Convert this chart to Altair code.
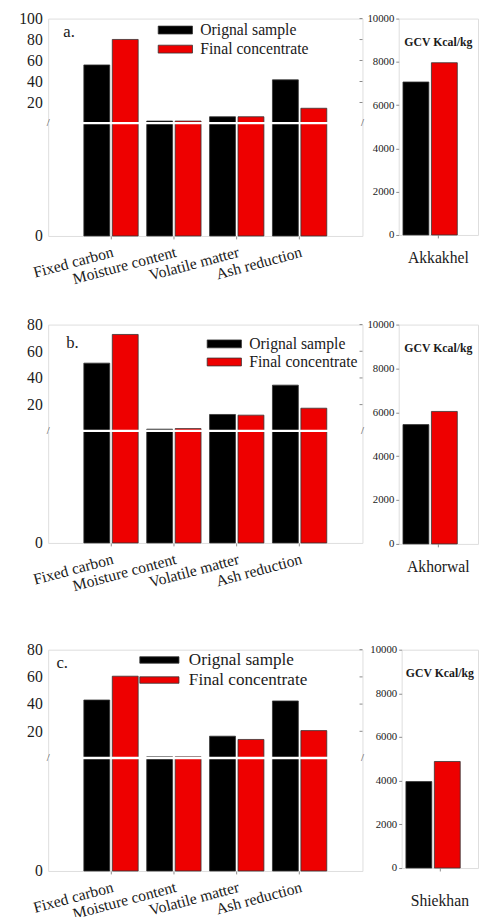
import altair as alt
import pandas as pd

PARAMS = ["Fixed carbon", "Moisture content", "Volatile matter", "Ash reduction"]
SERIES = ["Orignal sample", "Final concentrate"]
COLORS = ["#000000", "#ee0000"]

A_ORIG = [55.8, 2.3, 6.4, 41.6]
A_FINAL = [80.1, 2.3, 6.4, 14.5]
B_ORIG = [51.1, 1.6, 12.6, 34.6]
B_FINAL = [72.6, 2.0, 12.1, 17.3]
C_ORIG = [43.0, 1.3, 16.4, 42.3]
C_FINAL = [60.5, 1.3, 14.0, 20.5]

SITES = ["Akkakhel", "Akhorwal", "Shiekhan"]
GCV_ORIG = [7070, 5440, 3960]
GCV_FINAL = [7960, 6040, 4880]

TICKS_A = [0, 20, 40, 60, 80, 100]
TICKS_BC = [0, 20, 40, 60, 80]
GCV_TICKS = [0, 2000, 4000, 6000, 8000, 10000]
PANEL_TAGS = ["a.", "b.", "c."]
GCV_TITLE = "GCV Kcal/kg"
BREAK = 0.3

FONT = "Liberation Serif"
FRAME = "#8a8a8a"
TEXT = "#1a1a1a"
PATH_AB = "M-2,-0.46H2V0.46H-2Z"
PATH_C = "M-2,-0.33H2V0.33H-2Z"


def left_panel(tag, orig, final, ymax, ticks, w, h, slope, leg, tag_x, tag_y):
    df = pd.DataFrame({
        "param": PARAMS * 2,
        "series": [SERIES[0]] * 4 + [SERIES[1]] * 4,
        "value": orig + final,
    })
    yb = (ymax - BREAK) * slope
    yscale = alt.Scale(domain=[0, BREAK, ymax], range=[h, yb, 0], nice=False, zero=False)
    bars = alt.Chart(df).mark_bar(stroke="#333333", strokeWidth=0.8).encode(
        x=alt.X("param:N", sort=PARAMS,
                scale=alt.Scale(paddingInner=0, paddingOuter=0.5),
                axis=alt.Axis(title=None, labelAngle=345, labelAlign="right", labelBaseline="top",
                              labelFont=FONT, labelFontSize=16, labelColor=TEXT, tickSize=3,
                              tickColor=FRAME, domain=False, labelPadding=5, labelLimit=300)),
        xOffset=alt.XOffset("series:N", sort=SERIES,
                            scale=alt.Scale(paddingInner=0.09, paddingOuter=0.15)),
        y=alt.Y("value:Q", scale=yscale,
                axis=alt.Axis(values=ticks, title=None, tickSize=0, labelPadding=6,
                              labelFont=FONT, labelFontSize=16, labelColor=TEXT,
                              grid=False, domain=False)),
        color=alt.Color("series:N", sort=SERIES,
                        scale=alt.Scale(domain=SERIES, range=COLORS),
                        legend=alt.Legend(orient="none", legendX=leg["x"], legendY=leg["y"],
                                          title=None, symbolType=leg["path"],
                                          symbolSize=leg["size"],
                                          symbolStrokeColor="#333333", symbolStrokeWidth=0.8,
                                          symbolOpacity=1, labelFont=FONT,
                                          labelFontSize=leg["fs"], labelColor=TEXT,
                                          labelOffset=leg["off"], rowPadding=leg["pad"],
                                          padding=0)),
    )
    bdf = pd.DataFrame({"b": [BREAK]})
    gap = alt.Chart(bdf).mark_rule(color="white", strokeWidth=2.5).encode(
        y=alt.Y("b:Q", scale=yscale), x=alt.value(0), x2=alt.value(w))
    brk_l = alt.Chart(bdf).mark_text(text="/", font=FONT, fontSize=11, color="#444444").encode(
        y=alt.Y("b:Q", scale=yscale), x=alt.value(0))
    brk_r = alt.Chart(bdf).mark_text(text="/", font=FONT, fontSize=11, color="#444444").encode(
        y=alt.Y("b:Q", scale=yscale), x=alt.value(w))
    mdf = pd.DataFrame({"v": ticks[1:]})
    mirror = alt.Chart(mdf).mark_tick(orient="horizontal", size=3, thickness=1,
                                      color="#555555").encode(
        y=alt.Y("v:Q", scale=yscale), x=alt.value(w - 1.5))
    tagc = alt.Chart(pd.DataFrame({"t": [tag]})).mark_text(
        font=FONT, fontSize=17, color=TEXT, align="left", baseline="middle").encode(
        x=alt.value(tag_x), y=alt.value(tag_y), text="t:N")
    return alt.layer(bars, gap, brk_l, brk_r, mirror, tagc).properties(width=w, height=h)


def gcv_panel(site, orig, final, w, h, label_pad):
    df = pd.DataFrame({"site": [site] * 2, "series": SERIES, "value": [orig, final]})
    bars = alt.Chart(df).mark_bar(stroke="#333333", strokeWidth=0.8).encode(
        x=alt.X("site:N", scale=alt.Scale(paddingInner=0, paddingOuter=0),
                axis=alt.Axis(title=None, labelAngle=0, labelFont=FONT, labelFontSize=16,
                              labelColor=TEXT, tickSize=3, tickColor=FRAME, domain=False,
                              labelPadding=label_pad)),
        xOffset=alt.XOffset("series:N", sort=SERIES,
                            scale=alt.Scale(paddingInner=0.13, paddingOuter=0.55)),
        y=alt.Y("value:Q", scale=alt.Scale(domain=[0, 10000], nice=False),
                axis=alt.Axis(values=GCV_TICKS, format="d", title=None, tickSize=3,
                              tickColor=FRAME, labelFont=FONT, labelFontSize=11,
                              labelColor=TEXT, labelPadding=2, grid=False, domain=False)),
        color=alt.Color("series:N", scale=alt.Scale(domain=SERIES, range=COLORS), legend=None),
    )
    title = alt.Chart(pd.DataFrame({"t": [GCV_TITLE]})).mark_text(
        font=FONT, fontSize=12, fontWeight="bold", color=TEXT).encode(
        x=alt.value(w / 2), y=alt.value(24), text="t:N")
    return alt.layer(bars, title).properties(width=w, height=h)


def row(left, right, spacing):
    return alt.hconcat(left, right, spacing=spacing, bounds="flush").resolve_scale(
        color="independent", y="independent", x="independent").resolve_legend(color="independent")


LEG_A = {"x": 120.4, "y": 2.2, "fs": 16, "pad": 1.5, "off": 16, "path": PATH_AB, "size": 306}
LEG_B = {"x": 170.4, "y": 10.2, "fs": 16, "pad": 0.5, "off": 16, "path": PATH_AB, "size": 306}
LEG_C = {"x": 103.1, "y": 0, "fs": 17.5, "pad": 1.5, "off": 19.6, "path": PATH_C, "size": 400}

row_a = row(
    left_panel(PANEL_TAGS[0], A_ORIG, A_FINAL, 100, TICKS_A, 321, 222, 1.071, LEG_A, 15.5, 14),
    gcv_panel(SITES[0], GCV_ORIG[0], GCV_FINAL[0], 81, 221, 12), 37)
row_b = row(
    left_panel(PANEL_TAGS[1], B_ORIG, B_FINAL, 80, TICKS_BC, 321, 223, 1.362, LEG_B, 18.5, 18.5),
    gcv_panel(SITES[1], GCV_ORIG[1], GCV_FINAL[1], 81, 224, 12), 37)
row_c = row(
    left_panel(PANEL_TAGS[2], C_ORIG, C_FINAL, 80, TICKS_BC, 321, 226, 1.389, LEG_C, 8.5, 14),
    gcv_panel(SITES[2], GCV_ORIG[2], GCV_FINAL[2], 78, 223, 22), 40)

lower = alt.vconcat(row_b, row_c, spacing=47).resolve_scale(
    color="independent").resolve_legend(color="independent")

chart = alt.vconcat(row_a, lower, spacing=28.5).resolve_scale(
    color="independent").resolve_legend(color="independent").properties(
    padding={"left": 10, "top": -8, "right": 0, "bottom": 0}
).configure_view(stroke=FRAME, strokeWidth=1).configure(font=FONT)

chart.save("out.html", embed_options={"renderer": "svg", "actions": False})
